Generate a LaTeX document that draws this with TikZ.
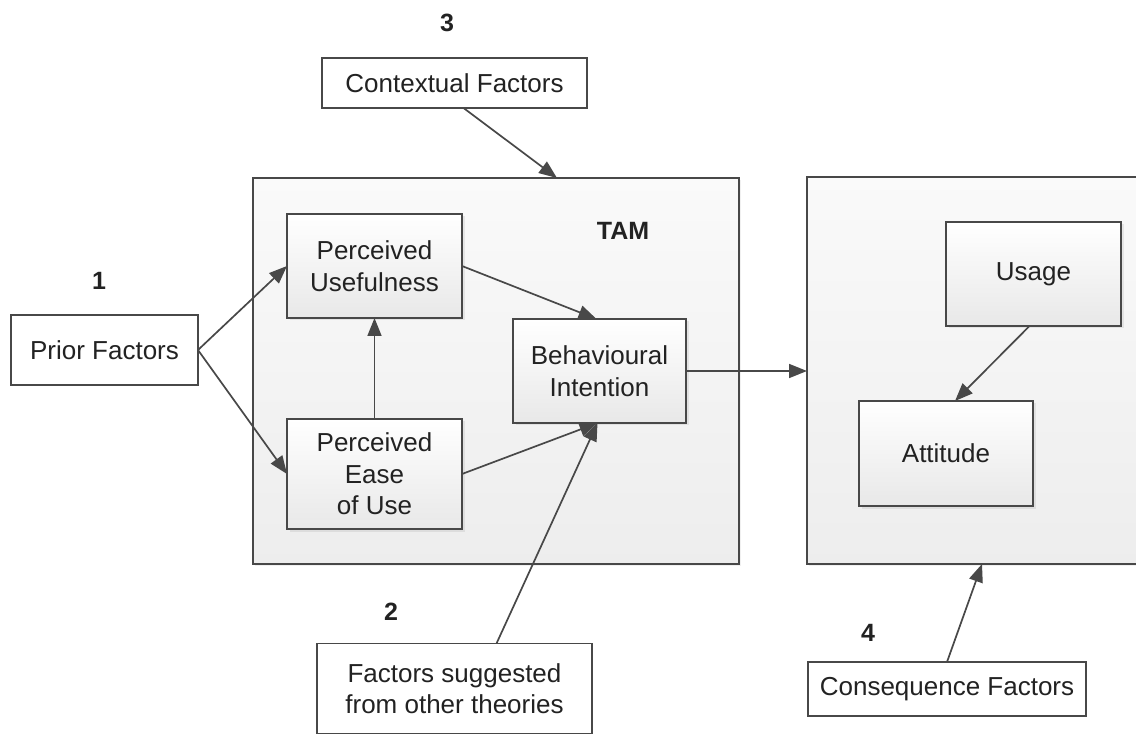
\documentclass[tikz,border=0pt]{standalone}
\usepackage{fontspec}
\setmainfont{Liberation Sans}
\usetikzlibrary{arrows.meta,shadows}
\definecolor{edge}{HTML}{484848}
\definecolor{ink}{HTML}{222222}
\begin{document}
\begin{tikzpicture}[x=1pt,y=-1pt,
  base/.style={draw=edge, line width=1.8pt, inner sep=0pt, outer sep=0pt,
    align=center, text=ink, font=\fontsize{26}{31.5}\selectfont},
  plainbox/.style={base, fill=white},
  framebox/.style={base, top color=white!98!black, bottom color=black!7,
    drop shadow={shadow xshift=2pt, shadow yshift=-2pt, opacity=0.12}},
  innerbox/.style={base, top color=white, bottom color=black!9,
    drop shadow={shadow xshift=2.5pt, shadow yshift=-2.5pt, opacity=0.15}},
  tag/.style={text=ink, font=\fontsize{25}{29}\selectfont\bfseries},
  conn/.style={draw=edge, line width=1.7pt,
    -{Triangle[length=18pt,width=14pt]}}
]
\useasboundingbox (0,0) rectangle (1136,735);

% outer frames
\node[framebox, minimum width=486pt, minimum height=386pt] (tam) at (496,371) {};
\node[framebox, minimum width=343pt, minimum height=387pt, anchor=west] (rb) at (807,370.5) {};

% TAM constructs
\node[innerbox, minimum width=175pt, minimum height=104pt] (pu) at (374.5,266) {Perceived\\Usefulness};
\node[innerbox, minimum width=175pt, minimum height=110pt] (peou) at (374.5,474) {Perceived\\Ease\\of Use};
\node[innerbox, minimum width=173pt, minimum height=104pt] (bi) at (599.5,371) {Behavioural\\Intention};
\node[tag] (tamlbl) at (623,231) {TAM};

% outcome constructs
\node[innerbox, minimum width=175pt, minimum height=104pt] (us) at (1033.5,274) {Usage};
\node[innerbox, minimum width=174pt, minimum height=105pt] (att) at (946,453.5) {Attitude};

% external factor groups
\node[plainbox, minimum width=187pt, minimum height=70pt] (pf) at (104.5,350) {Prior Factors};
\node[plainbox, minimum width=265pt, minimum height=50pt] (cf) at (454.5,83) {Contextual Factors};
\node[plainbox, minimum width=275pt, minimum height=90pt] (fs) at (454.5,688.5) {Factors suggested\\from other theories};
\node[plainbox, minimum width=278pt, minimum height=54pt] (cq) at (947,689) {Consequence Factors};

% group numbers
\node[tag] (n1) at (99,281) {1};
\node[tag] (n2) at (391,612) {2};
\node[tag] (n3) at (447,23) {3};
\node[tag] (n4) at (868,633) {4};

% relations
\draw[conn] (pf.east) -- (pu.west);
\draw[conn] (pf.east) -- (peou.west);
\draw[conn] (peou.north) -- (pu.south);
\draw[conn] (pu.east) -- ([xshift=-3pt]bi.north);
\draw[conn] (peou.east) -- ([xshift=-2pt]bi.south);
\draw[conn] ([xshift=42pt]fs.north) -- ([xshift=-2pt]bi.south);
\draw[conn] ([xshift=9pt]cf.south) -- ([xshift=61pt]tam.north);
\draw[conn] (bi.east) -- (rb.west |- bi.east);
\draw[conn] ([xshift=-4pt]us.south) -- ([xshift=9pt]att.north);
\draw[conn] (cq.north) -- ([xshift=3.5pt]rb.south);
\end{tikzpicture}
\end{document}
